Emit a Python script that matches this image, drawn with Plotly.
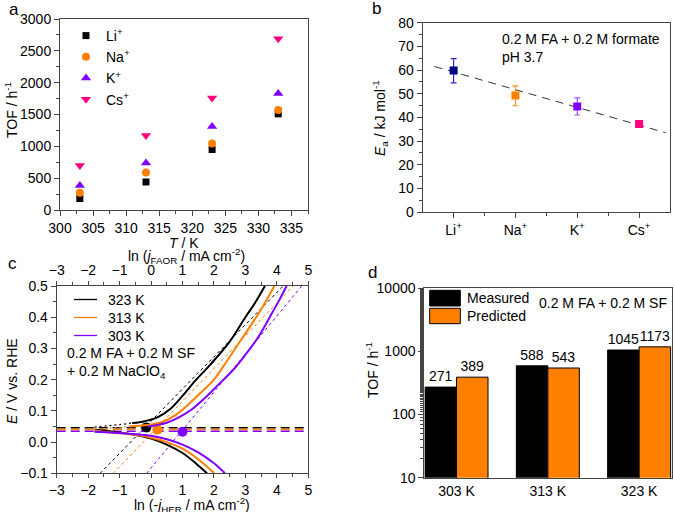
import plotly.graph_objects as go

W, H = 674, 512
def px(x): return x / W
def py(y): return 1 - y / H

FONT = "Liberation Sans, Arial, sans-serif"
ORANGE = "#FF8000"
PURPLE = "#8000FF"
PINK = "#FF0080"
NAVY = "#000080"
AXC = "#444444"

# ---------------- Panel a data ----------------
temps_a = [303, 313, 323, 333]
tof_li = [180, 440, 950, 1510]
tof_na = [271, 588, 1045, 1570]
tof_k = [385, 740, 1310, 1830]
tof_cs = [700, 1170, 1760, 2690]

# ---------------- Panel b data ----------------
cation_pos = [0, 1, 2, 3]
cation_labels = ["Li<sup>+</sup>", "Na<sup>+</sup>", "K<sup>+</sup>", "Cs<sup>+</sup>"]
ea_vals = [59.8, 49.2, 44.6, 37.2]
ea_err_plus = [5.0, 4.1, 3.6, 0.8]
ea_err_minus = [5.2, 4.3, 3.6, 0.8]
ea_colors = [NAVY, ORANGE, PURPLE, PINK]
ea_err_colors = ["#2a2ad0", "#FF9020", "#A050FF", PINK]
fit_x = [-0.31, 3.43]
fit_y = [61.5, 33.5]

# ---------------- Panel c data ----------------
# upper (FAOR) branches, ln j vs E
up_323_dot_x = [-1.8, -1.4, -1.0, -0.6]
up_323_dot_e = [0.048, 0.052, 0.056, 0.061]
up_323_x = [-0.6, -0.2, 0.2, 0.6, 1.0, 1.4, 1.9, 2.5, 3.0, 3.3, 3.62]
up_323_e = [0.061, 0.067, 0.079, 0.105, 0.148, 0.196, 0.25, 0.322, 0.4, 0.445, 0.5]
up_313_dot_x = [-1.8, -1.4, -1.0, -0.7]
up_313_dot_e = [0.042, 0.044, 0.047, 0.050]
up_313_x = [-0.7, -0.3, 0.0, 0.4, 0.8, 1.2, 1.6, 2.0, 2.4, 2.8, 3.2, 3.5, 3.92]
up_313_e = [0.050, 0.053, 0.056, 0.066, 0.088, 0.122, 0.16, 0.2, 0.258, 0.318, 0.378, 0.425, 0.5]
up_303_x = [-0.1, 0.2, 0.5, 0.9, 1.3, 1.7, 2.1, 2.6, 3.0, 3.4, 3.8, 4.05, 4.31]
up_303_e = [0.05, 0.055, 0.062, 0.08, 0.105, 0.14, 0.18, 0.23, 0.28, 0.335, 0.405, 0.45, 0.5]
# lower (HER) branches
lo_323_x = [-1.8, -1.2, -0.6, 0.0, 0.5, 1.0, 1.4, 1.78]
lo_323_e = [0.040, 0.033, 0.025, 0.011, -0.008, -0.035, -0.066, -0.1]
lo_313_x = [-1.8, -1.2, -0.6, 0.0, 0.5, 1.0, 1.5, 2.01]
lo_313_e = [0.036, 0.030, 0.024, 0.014, 0.0, -0.021, -0.055, -0.1]
lo_303_x = [-1.8, -1.2, -0.6, 0.0, 0.5, 1.0, 1.5, 2.0, 2.35]
lo_303_e = [0.033, 0.030, 0.026, 0.02, 0.009, -0.008, -0.033, -0.068, -0.1]
# Tafel extrapolation lines
tafel_323_x = [-1.62, 4.2]
tafel_313_x = [-1.2, 4.52]
tafel_303_x = [-0.14, 4.79]
tafel_e = [-0.1, 0.5]
# equilibrium potentials & intersection points
eq_x = [-3, 5]
eq_323, eq_313, eq_303 = 0.046, 0.040, 0.035
pt_x = [-0.15, 0.2, 1.0]
pt_e = [0.047, 0.040, 0.033]
c_legend_labels = ["323 K", "313 K", "303 K"]

# ---------------- Panel d data ----------------
temps_d = ["303 K", "313 K", "323 K"]
tof_measured = [271, 588, 1045]
tof_predicted = [389, 543, 1173]
d_ticks = [10, 100, 1000, 10000]

fig = go.Figure()

# ---- panel a
for name, vals, col, sym, sz in [
    ("Li<sup>+</sup>", tof_li, "black", "square", 7),
    ("Na<sup>+</sup>", tof_na, ORANGE, "circle", 8),
    ("K<sup>+</sup>", tof_k, PURPLE, "triangle-up", 9),
    ("Cs<sup>+</sup>", tof_cs, PINK, "triangle-down", 9),
]:
    fig.add_trace(go.Scatter(x=temps_a, y=vals, mode="markers", name=name,
                             marker=dict(color=col, symbol=sym, size=sz),
                             xaxis="x", yaxis="y", legend="legend"))

# ---- panel b
fig.add_trace(go.Scatter(x=fit_x, y=fit_y, mode="lines", showlegend=False,
                         line=dict(color="#333333", width=1, dash="8px,6px"),
                         xaxis="x2", yaxis="y2"))
for i in range(4):
    fig.add_trace(go.Scatter(x=[cation_pos[i]], y=[ea_vals[i]], mode="markers", showlegend=False,
                             marker=dict(color=ea_colors[i], symbol="square", size=8),
                             error_y=dict(type="data", array=[ea_err_plus[i]], arrayminus=[ea_err_minus[i]],
                                          color=ea_err_colors[i], thickness=1.2, width=3),
                             xaxis="x2", yaxis="y2"))

# ---- panel c
for xs, col in [(tafel_323_x, "black"), (tafel_313_x, ORANGE), (tafel_303_x, PURPLE)]:
    fig.add_trace(go.Scatter(x=xs, y=tafel_e, mode="lines", showlegend=False,
                             line=dict(color=col, width=1, dash="3px,3px"),
                             xaxis="x3", yaxis="y3"))
for e, col in [(eq_323, "black"), (eq_313, ORANGE), (eq_303, PURPLE)]:
    fig.add_trace(go.Scatter(x=eq_x, y=[e, e], mode="lines", showlegend=False,
                             line=dict(color=col, width=1.5, dash="9px,5px"),
                             xaxis="x3", yaxis="y3"))
for xs, es, col in [(up_323_dot_x, up_323_dot_e, "black"), (up_313_dot_x, up_313_dot_e, ORANGE)]:
    fig.add_trace(go.Scatter(x=xs, y=es, mode="lines", showlegend=False,
                             line=dict(color=col, width=1.2, dash="2px,3px", shape="spline"),
                             xaxis="x5", yaxis="y3"))
for xs, es, col, nm in [(up_323_x, up_323_e, "black", "323 K"),
                        (up_313_x, up_313_e, ORANGE, "313 K"),
                        (up_303_x, up_303_e, PURPLE, "303 K")]:
    fig.add_trace(go.Scatter(x=xs, y=es, mode="lines", name=nm, showlegend=False,
                             line=dict(color=col, width=2, shape="spline"),
                             xaxis="x5", yaxis="y3"))
for xs, es, col in [(lo_323_x, lo_323_e, "black"), (lo_313_x, lo_313_e, ORANGE), (lo_303_x, lo_303_e, PURPLE)]:
    fig.add_trace(go.Scatter(x=xs, y=es, mode="lines", showlegend=False,
                             line=dict(color=col, width=2, shape="spline"),
                             xaxis="x3", yaxis="y3"))
fig.add_trace(go.Scatter(x=pt_x, y=pt_e, mode="markers", showlegend=False,
                         marker=dict(color=["black", ORANGE, PURPLE], size=10),
                         xaxis="x3", yaxis="y3"))

# ---- panel d
for vals, col, nm in [(tof_measured, "black", "Measured"), (tof_predicted, ORANGE, "Predicted")]:
    fig.add_trace(go.Bar(x=temps_d, y=vals, name=nm, showlegend=False,
                         marker=dict(color=col, line=dict(color="black", width=1)),
                         text=vals, textposition="outside", cliponaxis=False,
                         constraintext="none", textfont=dict(size=14, color="black", family=FONT),
                         xaxis="x4", yaxis="y4"))

def ax(**kw):
    base = dict(showline=True, linecolor=AXC, linewidth=1, mirror=True, ticks="outside",
                ticklen=5, tickwidth=1, tickcolor=AXC, showgrid=False, zeroline=False,
                automargin=False, tickfont=dict(size=14, color="black", family=FONT))
    base.update(kw)
    return base

minor = dict(ticks="outside", ticklen=3, tickcolor=AXC, showgrid=False)

fig.update_layout(
    width=W, height=H, margin=dict(l=0, r=0, t=0, b=0, autoexpand=False),
    paper_bgcolor="white", plot_bgcolor="white",
    font=dict(family=FONT, size=14, color="black"),
    bargap=0.31, bargroupgap=0, barmode="group",
    xaxis=ax(domain=[px(60), px(308)], anchor="y", range=[300, 337.5], dtick=5,
             minor=dict(dtick=2.5, **minor)),
    yaxis=ax(domain=[py(210), py(19)], anchor="x", range=[0, 3000], dtick=500,
             minor=dict(dtick=250, **minor)),
    xaxis2=ax(domain=[px(422.7), px(670)], anchor="y2", range=[-0.5, 3.5],
              tickmode="array", tickvals=cation_pos, ticktext=cation_labels,
              minor=dict(tickmode="array", tickvals=[0.5, 1.5, 2.5], **minor)),
    yaxis2=ax(domain=[py(212), py(22.7)], anchor="x2", range=[0, 80], dtick=10,
              minor=dict(dtick=5, **minor)),
    xaxis3=ax(domain=[px(56.7), px(308.3)], anchor="y3", range=[-3, 5], dtick=1,
              ticklen=4, minor=dict(dtick=0.5, **minor)),
    xaxis5=ax(overlaying="x3", anchor="y3", side="top", range=[-3, 5], dtick=1, mirror=False,
              ticklen=4, minor=dict(dtick=0.5, **minor)),
    yaxis3=ax(domain=[py(473.3), py(286)], anchor="x3", range=[-0.1, 0.5], dtick=0.1,
              tickformat=".1f", minor=dict(dtick=0.05, **minor)),
    xaxis4=ax(domain=[px(424.3), px(672)], anchor="y4", range=[-0.353, 2.36], ticks=""),
    yaxis4=ax(domain=[py(477.7), py(288)], anchor="x4", type="log", range=[1, 4],
              tickmode="array", tickvals=d_ticks, ticktext=[str(v) for v in d_ticks],
              minor=dict(**minor)),
    legend=dict(x=px(66), y=py(20), xanchor="left", yanchor="top", bgcolor="rgba(0,0,0,0)",
                font=dict(size=14), traceorder="normal", tracegroupgap=0),
)

ann = []
def A(text, x, y, size=14, xanchor="center", angle=0):
    ann.append(dict(text=text, x=px(x), y=py(y), xref="paper", yref="paper", showarrow=False,
                    xanchor=xanchor, yanchor="middle", textangle=angle,
                    font=dict(size=size, color="black", family=FONT)))

A("a", 14, 9, 17)
A("b", 376, 8, 17)
A("c", 12, 263, 17)
A("d", 372, 272, 17)
A("<i>T</i> / K", 184, 243)
A("TOF / h<sup>-1</sup>", 11, 110, angle=-90)
A("<i>E</i><sub>a</sub> / kJ mol<sup>-1</sup>", 380, 118, angle=-90)
A("0.2 M FA + 0.2 M formate", 500, 39, xanchor="left")
A("pH 3.7", 500, 57, xanchor="left")
A("ln (<i>j</i><sub>FAOR</sub> / mA cm<sup>-2</sup>)", 187, 256)
A("ln (-<i>j</i><sub>HER</sub> / mA cm<sup>-2</sup>)", 192, 504.5)
A("<i>E</i> / V vs. RHE", 12, 381, angle=-90)
A("0.2 M FA + 0.2 M SF", 65, 353, xanchor="left")
A("+ 0.2 M NaClO<sub>4</sub>", 65, 372, xanchor="left")
A("TOF / h<sup>-1</sup>", 372, 370, angle=-90)
A("0.2 M FA + 0.2 M SF", 537, 303, xanchor="left")
A("Measured", 465, 298, xanchor="left")
A("Predicted", 465, 316, xanchor="left")

shapes = [
    dict(type="rect", xref="paper", yref="paper", x0=px(429.7), x1=px(460.3), y0=py(306), y1=py(290.3),
         fillcolor="black", line=dict(color="black", width=1)),
    dict(type="rect", xref="paper", yref="paper", x0=px(429.7), x1=px(460.3), y0=py(323.7), y1=py(308.3),
         fillcolor=ORANGE, line=dict(color="black", width=1)),
]
# custom legend for panel c
for i, (lab, col) in enumerate(zip(c_legend_labels, ["black", ORANGE, PURPLE])):
    yy = 299.5 + i * 18
    shapes.append(dict(type="line", xref="paper", yref="paper", x0=px(74), x1=px(97),
                       y0=py(yy), y1=py(yy), line=dict(color=col, width=1.3)))
    A(lab, 106, yy, xanchor="left")

fig.update_layout(annotations=ann, shapes=shapes)
fig.write_html("out.html", config={"displayModeBar": False},
               post_script="document.body.style.margin='0';document.body.style.overflow='hidden';")
